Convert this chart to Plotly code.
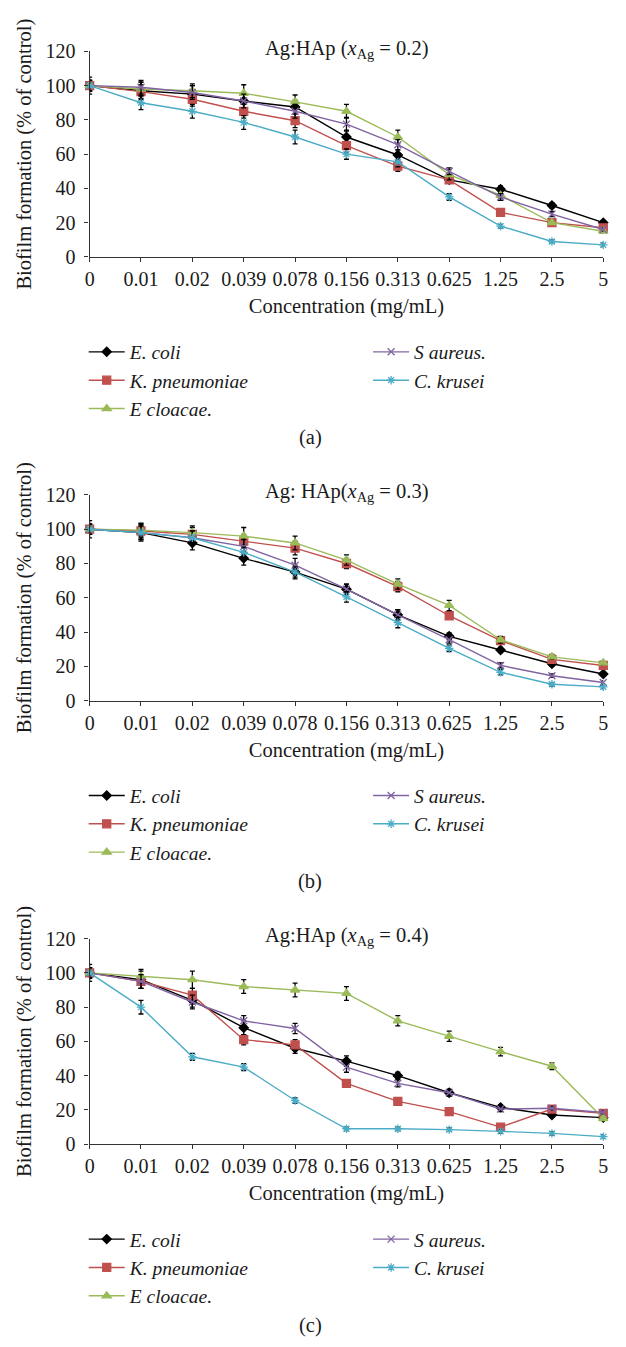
import plotly.graph_objects as go

# ---------------- data ----------------
conc_labels = ["0", "0.01", "0.02", "0.039", "0.078", "0.156", "0.313", "0.625", "1.25", "2.5", "5"]

series_names = ["E. coli", "K. pneumoniae", "E cloacae.", "S aureus.", "C. krusei"]

titles = [
    "Ag:HAp (<i>x</i><sub>Ag</sub> = 0.2)",
    "Ag: HAp(<i>x</i><sub>Ag</sub> = 0.3)",
    "Ag:HAp (<i>x</i><sub>Ag</sub> = 0.4)",
]
captions = ["(a)", "(b)", "(c)"]

# panel (a) x_Ag = 0.2
a_ecoli = [100, 97, 95, 91, 87.5, 70, 59.5, 45, 39.5, 30, 20]
a_kpn   = [100, 96.5, 92, 85, 79.5, 65, 53, 45, 26, 20, 17]
a_eclo  = [100, 98, 97, 95.5, 90.5, 85, 70, 48, 36, 20, 15]
a_saur  = [100, 99, 96, 91, 85, 77.5, 65.5, 50, 35, 25, 16]
a_ckru  = [100, 90, 85, 78.5, 70, 60, 55.5, 35, 18, 9, 7]

# panel (b) x_Ag = 0.3
b_ecoli = [100, 98, 92, 83, 75, 65, 50, 37.5, 29.5, 21.5, 15.5]
b_kpn   = [100, 99, 97, 93, 89, 80, 66.5, 49.5, 35, 24, 20.5]
b_eclo  = [100, 99.5, 98, 96, 92, 82, 68, 55.5, 35.5, 25.5, 22]
b_saur  = [100, 98, 95, 90, 79, 65, 50, 35.5, 20.5, 14.5, 10.5]
b_ckru  = [100, 98, 95, 86.5, 75, 60.5, 45.5, 30.5, 16.5, 9.5, 8]

# panel (c) x_Ag = 0.4
c_ecoli = [100, 96, 84, 68, 56, 48.5, 40, 30, 21.5, 17, 15.5]
c_kpn   = [100, 95, 87, 61, 58, 35.5, 25, 19, 10, 20.5, 18]
c_eclo  = [100, 98, 96, 92, 90, 88, 72, 63, 54, 45.5, 15]
c_saur  = [100, 95, 83, 72, 67.5, 45, 35.5, 30, 20.5, 21, 18.5]
c_ckru  = [100, 80, 51, 45, 25.5, 9, 9, 8.5, 7.5, 6.3, 4.4]

# error bars (estimated)
a_err = [
    [5, 5, 5, 4, 4, 4, 3, 2, 2, 1.5, 1],
    [3, 4, 4, 4, 4, 4, 3, 2, 1.5, 1.5, 1],
    [3, 4, 4, 5, 4, 4, 4, 3, 2, 1, 1],
    [3, 4, 4, 4, 4, 4, 3, 2, 2, 1.5, 1],
    [3, 4, 4, 4, 4, 3, 3, 2, 1, 1, 1],
]
b_err = [
    [5, 5, 4, 4, 4, 3, 3, 2, 1.5, 1.5, 1],
    [3, 4, 4, 4, 4, 3, 3, 2, 1.5, 1.5, 1],
    [3, 4, 4, 5, 4, 3, 3, 3, 2, 1.5, 1],
    [3, 4, 4, 4, 4, 3, 3, 2, 1.5, 1, 1],
    [3, 4, 4, 3, 3, 3, 3, 2, 1.5, 1, 1],
]
c_err = [
    [5, 5, 4, 4, 3, 3, 2, 2, 1.5, 1, 1],
    [3, 4, 4, 3, 3, 2, 2, 1.5, 1.5, 1, 1],
    [3, 4, 5, 4, 4, 4, 3, 3, 2.5, 2, 1],
    [3, 4, 4, 3, 3, 3, 2, 2, 1.5, 1, 1],
    [3, 4, 2, 2, 1.5, 1, 1, 1, 1, 1, 1],
]

panels = [
    [a_ecoli, a_kpn, a_eclo, a_saur, a_ckru],
    [b_ecoli, b_kpn, b_eclo, b_saur, b_ckru],
    [c_ecoli, c_kpn, c_eclo, c_saur, c_ckru],
]
errors = [a_err, b_err, c_err]

# ---------------- style ----------------
W, H = 626, 1347
FONT = "Liberation Serif"
TXT = "#1a1a1a"
colors = ["#000000", "#C0504D", "#9BBB59", "#8064A2", "#4BACC6"]
symbols = ["diamond", "square", "triangle-up", "x-thin-open", "asterisk-open"]
msizes = [7, 8, 8, 7, 7]
legend_col = [0, 0, 0, 1, 1]      # which legend column each series sits in

x_left, x_right = 86, 608
axis_top = [41, 492, 943]
axis_bot = [250, 701, 1152]
col_line_x = [86, 375]

def px(v):
    return v / W

def py(v):
    return 1 - v / H

fig = go.Figure()
idx = list(range(len(conc_labels)))

leg_counter = 0
for p in range(3):
    sfx = "" if p == 0 else str(p + 1)
    leg_ids = []
    for c in range(2):
        leg_counter += 1
        leg_ids.append("legend" if leg_counter == 1 else "legend" + str(leg_counter))
    for s in range(5):
        fig.add_trace(go.Scatter(
            x=idx, y=panels[p][s],
            mode="lines+markers",
            name="<i>" + series_names[s] + "</i>",
            line=dict(color=colors[s], width=1.4),
            marker=dict(symbol=symbols[s], size=msizes[s], color=colors[s],
                        line=dict(color=colors[s], width=1.3)),
            error_y=dict(type="data", array=errors[p][s], visible=True,
                         color="#000000", thickness=1.3, width=2.5),
            xaxis="x" + sfx, yaxis="y" + sfx,
            legend=leg_ids[legend_col[s]],
            cliponaxis=False,
        ))
    top, bot = axis_top[p], axis_bot[p]
    fig.update_layout({
        "xaxis" + sfx: dict(
            domain=[px(x_left), px(x_right)], anchor="y" + sfx,
            range=[0, 10], tickmode="array", tickvals=idx, ticktext=conc_labels,
            showgrid=False, zeroline=False, showline=True, linecolor="#333333",
            linewidth=1.3, ticks="outside", ticklen=4, tickcolor="#333333",
            tickfont=dict(family=FONT, size=20, color=TXT),
            title=dict(text="Concentration (mg/mL)", standoff=9,
                       font=dict(family=FONT, size=20.5, color=TXT)),
        ),
        "yaxis" + sfx: dict(
            domain=[py(bot), py(top)], anchor="x" + sfx,
            range=[0, 120], dtick=20, tick0=0,
            showgrid=False, zeroline=False, showline=True, linecolor="#333333",
            linewidth=1.3, ticks="outside", ticklen=4, tickcolor="#333333",
            ticklabelstandoff=5,
            tickfont=dict(family=FONT, size=20, color=TXT),
            title=dict(text="Biofilm formation (% of control)", standoff=8,
                       font=dict(family=FONT, size=20.5, color=TXT)),
        ),
    })
    for c in range(2):
        fig.update_layout({
            leg_ids[c]: dict(
                orientation="v", x=px(col_line_x[c] - 6), xanchor="left",
                y=py(bot + 77), yanchor="top",
                font=dict(family=FONT, size=19.5, color=TXT, style="italic"),
                bgcolor="rgba(0,0,0,0)", traceorder="normal",
                itemwidth=36,
            ),
        })
    fig.add_annotation(
        text=titles[p], x=(px(x_left) + px(x_right)) / 2, y=py(top - 2),
        xref="paper", yref="paper", xanchor="center", yanchor="middle",
        showarrow=False, font=dict(family=FONT, size=20.5, color=TXT),
    )
    fig.add_annotation(
        text=captions[p], x=px(310), y=py(bot + 184),
        xref="paper", yref="paper", xanchor="center", yanchor="middle",
        showarrow=False, font=dict(family=FONT, size=20.5, color=TXT),
    )

fig.update_layout(
    width=W, height=H, autosize=False,
    margin=dict(l=0, r=0, t=0, b=0),
    paper_bgcolor="white", plot_bgcolor="white",
    showlegend=True,
)

fig.write_html("out.html")
